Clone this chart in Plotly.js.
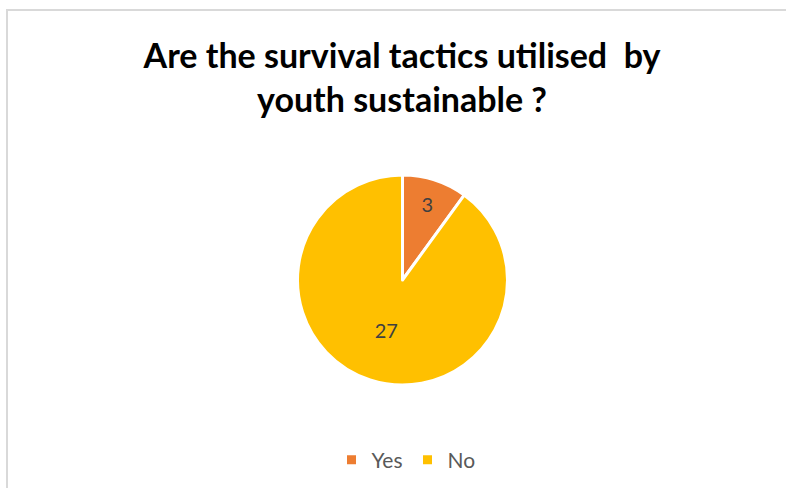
<!DOCTYPE html>
<html>
<head>
<meta charset="utf-8">
<script src="https://cdn.plot.ly/plotly-3.0.1.min.js"></script>
<style>html,body{margin:0;padding:0;background:#fff;}#chart{width:786px;height:488px;}</style>
</head>
<body>
<div id="chart"></div>
<script>
const categories = ['Yes', 'No'];
const values = [3, 27];
const sliceColors = ['#ED7D31', '#FFC000'];
const titleText = 'Are the survival tactics utilised  by<br>youth sustainable ?';

const W = 786, H = 488;
const cx = 402.5, cy = 280, r = 105;

const data = [{
  type: 'pie',
  labels: categories,
  values: values,
  sort: false,
  direction: 'clockwise',
  rotation: 0,
  textinfo: 'value',
  textposition: 'inside',
  insidetextorientation: 'horizontal',
  textfont: {family: 'Lato, "Open Sans", sans-serif', size: 20, color: '#404040'},
  hoverinfo: 'label+value',
  marker: {colors: sliceColors, line: {color: '#ffffff', width: 3}},
  domain: {x: [(cx - r) / W, (cx + r) / W], y: [(H - cy - r) / H, (H - cy + r) / H]}
}];

const layout = {
  width: W, height: H,
  margin: {l: 0, r: 0, t: 0, b: 0},
  paper_bgcolor: '#ffffff',
  title: {
    text: titleText,
    font: {family: 'Lato, "Open Sans", sans-serif', size: 34, color: '#000000', weight: 'bold'},
    x: 402 / W, xanchor: 'center',
    y: 1 - 68 / H, yanchor: 'top', yref: 'paper'
  },
  showlegend: true,
  legend: {
    orientation: 'h',
    x: 406 / W, xanchor: 'center',
    y: (H - 460) / H, yanchor: 'middle',
    font: {family: 'Lato, "Open Sans", sans-serif', size: 21, color: '#595959'},
    itemwidth: 30
  },
  shapes: [{
    type: 'rect', xref: 'paper', yref: 'paper',
    x0: 7 / W, x1: 1.02, y0: -0.02, y1: 1 - 10 / H,
    line: {color: '#d9d9d9', width: 2}, fillcolor: 'rgba(0,0,0,0)'
  }]
};

Plotly.newPlot('chart', data, layout, {displayModeBar: false, staticPlot: true});
</script>
</body>
</html>
